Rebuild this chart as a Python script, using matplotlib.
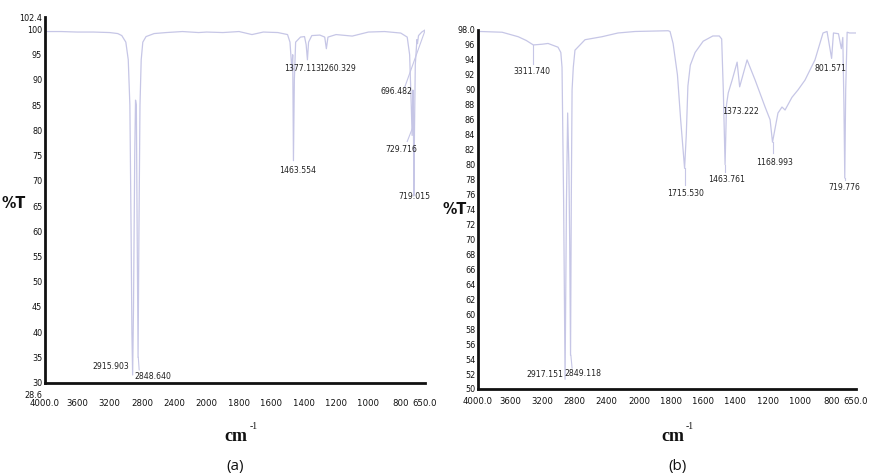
import numpy as np
import matplotlib
matplotlib.use("Agg")
import matplotlib.pyplot as plt
from matplotlib import font_manager as fm

# ---------------- data ----------------
# Panel (a): wavenumber (cm-1) and %T
wn_a = [4000, 3800, 3600, 3400, 3200, 3100, 3050, 3000, 2970, 2950, 2935, 2925,
        2915.9, 2905, 2890, 2880, 2870, 2860, 2848.6, 2838, 2825, 2810, 2790,
        2750, 2650, 2500, 2300, 2100, 2000, 1900, 1800, 1720, 1650, 1560, 1500,
        1485, 1473, 1468, 1463.5, 1458, 1450, 1420, 1395, 1385, 1377, 1370,
        1350, 1300, 1270, 1260, 1250, 1200, 1100, 1000, 900, 800, 760, 745,
        735, 729.7, 725, 722, 719, 715, 710, 700, 696.5, 690, 670, 650]
t_a = [99.6, 99.6, 99.5, 99.5, 99.4, 99.2, 98.8, 97.5, 94, 85, 60, 40,
       31.5, 45, 75, 86, 85, 60, 35, 60, 85, 94, 97.5,
       98.6, 99.2, 99.4, 99.6, 99.4, 99.5, 99.4, 99.6, 99.0, 99.5, 99.4, 99.0,
       97.5, 92, 95, 74, 90, 97.5, 98.5, 98.6, 97, 94, 97.5,
       98.8, 98.9, 98.5, 96.2, 98.5, 99.0, 98.7, 99.5, 99.6, 99.3, 98.5, 95,
       85, 79, 88, 85, 67, 80, 93, 98.0, 97.2, 98.8, 99.5, 99.9]

# Panel (b)
wn_b = [4000, 3975, 3700, 3500, 3400, 3311.7, 3200, 3129, 3005, 2970, 2955, 2935,
        2917.2, 2900, 2885, 2870, 2860, 2849.1, 2840, 2830, 2815, 2794, 2669,
        2458, 2259, 2047, 1818, 1806, 1787, 1760, 1740, 1725, 1715.5, 1705,
        1695, 1680, 1650, 1600, 1540, 1500, 1485, 1475, 1463.8, 1455, 1444,
        1420, 1389, 1373.2, 1327, 1277, 1215, 1184, 1169, 1135, 1110, 1091,
        1048, 1010, 967, 905, 855, 830, 801.6, 790, 759, 741, 732, 725, 719.8,
        714, 705, 690, 650]
t_b = [97.8, 97.8, 97.7, 97.1, 96.6, 96.0, 96.1, 96.2, 95.7, 95.0, 93, 75,
       51.3, 75, 86.9, 80, 70, 54.5, 75, 90, 93, 95.3, 96.7,
       97.1, 97.6, 97.8, 97.9, 97.8, 96.2, 92, 86, 82, 79.5, 84,
       90.5, 93.3, 95, 96.5, 97.2, 97.2, 96.8, 90, 80, 88, 89.6,
       91.3, 93.7, 90.4, 94.0, 91.3, 87.7, 86, 83, 86.9, 87.7, 87.3,
       89, 90, 91.3, 94, 97.6, 97.8, 94.2, 97.6, 97.5, 95.5, 97, 88, 78.2,
       90, 97.7, 97.6, 97.6]

x_ticks = [4000, 3600, 3200, 2800, 2400, 2000, 1800, 1600, 1400, 1200, 1000, 800, 650]
x_ticklabels = ["4000.0", "3600", "3200", "2800", "2400", "2000", "1800", "1600",
                "1400", "1200", "1000", "800", "650.0"]

y_min_a = 28.6
y_ticks_a = [30, 35, 40, 45, 50, 55, 60, 65, 70, 75, 80, 85, 90, 95, 100, 102.4]
y_ticklabels_a = ["30", "35", "40", "45", "50", "55", "60", "65", "70", "75",
                  "80", "85", "90", "95", "100", "102.4"]
y_ticks_b = [50, 52, 54, 56, 58, 60, 62, 64, 66, 68, 70, 72, 74, 76, 78, 80, 82, 84,
             86, 88, 90, 92, 94, 96, 98]
y_ticklabels_b = [str(v) for v in y_ticks_b[:-1]] + ["98.0"]

# peak labels: (text, wavenumber, %T, ha)
peaks_a = [("2915.903", 2957, 33.1, "right"), ("2848.640", 2894, 31.1, "left"),
           ("1463.554", 1435, 72.1, "center"), ("1377.113", 1404, 92.3, "center"),
           ("1260.329", 1190, 92.3, "center"), ("696.482", 826, 87.8, "center"),
           ("729.716", 795, 76.3, "center"), ("719.015", 714, 66.8, "center")]
peaks_b = [("3311.740", 3328, 92.4, "center"), ("2917.151", 3167, 51.9, "center"),
           ("2849.118", 2694, 52.1, "center"), ("1715.530", 1712, 76.2, "center"),
           ("1463.761", 1457, 78.0, "center"), ("1373.222", 1370, 87.1, "center"),
           ("1168.993", 1159, 80.3, "center"), ("801.571", 810, 92.9, "center"),
           ("719.776", 720, 77.0, "center")]

# leader lines (wavenumbers, %T)
leaders_a = [([776, 652], [88.5, 99.6]), ([760, 727], [77.8, 80.5]),
             ([2846, 2835], [35, 32.5])]
leaders_b = [([3311.7, 3311.7], [96.0, 93.4]), ([1715.5, 1715.5], [79.5, 77.3]),
             ([1463.8, 1463.8], [80, 79]), ([1169, 1169], [83, 81.5]),
             ([719.8, 719.8], [78.2, 78.0]), ([2845, 2830], [54.5, 52.8])]

# ---------------- fonts ----------------
_entries = fm.fontManager.ttflist
_names = {f.name for f in _entries}
_dv_cond = any(f.name == "DejaVu Sans" and str(f.stretch) in ("condensed", "semi-condensed", "600", "500")
               for f in _entries)
if "Liberation Sans Narrow" in _names:
    plt.rcParams["font.family"] = ["Liberation Sans Narrow", "DejaVu Sans"]
    SC = 1.0
elif _dv_cond:
    plt.rcParams["font.family"] = ["DejaVu Sans"]
    plt.rcParams["font.stretch"] = "condensed"
    SC = 0.85
else:
    plt.rcParams["font.family"] = ["Roboto", "DejaVu Sans"]
    SC = 0.84

# ---------------- style ----------------
LINE = "#c6c6e6"


def fwd(x):
    x = np.asarray(x, dtype=float)
    return np.where(x >= 2000, x, 2 * x - 2000)


def inv(u):
    u = np.asarray(u, dtype=float)
    return np.where(u >= 2000, u, (u + 2000) / 2)


fig = plt.figure(figsize=(8.7, 4.76), dpi=100)
ax_a = fig.add_axes([0.0517, 0.1815, 0.4368, 0.7819])
ax_b = fig.add_axes([0.5494, 0.1828, 0.4345, 0.7542])


def style(ax, yticks, ylabels, ylim, spine_y, xpad):
    ax.set_xscale("function", functions=(fwd, inv))
    ax.set_xlim(4000, 650)
    ax.set_ylim(*ylim)
    ax.set_xticks(x_ticks, x_ticklabels)
    ax.xaxis.set_minor_locator(matplotlib.ticker.NullLocator())
    ax.set_yticks(yticks, ylabels)
    ax.yaxis.set_minor_locator(matplotlib.ticker.NullLocator())
    ax.tick_params(axis="both", length=0, colors="#111111")
    ax.tick_params(axis="x", pad=xpad, labelsize=8.0 * SC)
    ax.tick_params(axis="y", pad=2, labelsize=7.6 * SC)
    for s in ("top", "right"):
        ax.spines[s].set_visible(False)
    ax.spines["bottom"].set_position(("data", spine_y))
    ax.spines["left"].set_bounds(spine_y, ylim[1])
    for s in ("left", "bottom"):
        ax.spines[s].set_linewidth(2.0)
        ax.spines[s].set_color("#111111")
    ax.patch.set_alpha(0)


style(ax_a, y_ticks_a, y_ticklabels_a, (y_min_a, 102.4), 30, 12)
style(ax_b, y_ticks_b, y_ticklabels_b, (50, 98.0), 50, 6)

# lower-limit label of panel (a), placed just under the "30" label
ax_a.annotate(f"{y_min_a}", xy=(0, y_min_a), xycoords=("axes fraction", "data"),
              xytext=(-2, -4), textcoords="offset points", ha="right", va="center",
              fontsize=7.6 * SC, color="#111111")

ax_a.plot(wn_a, t_a, color=LINE, lw=0.9)
ax_b.plot(wn_b, t_b, color=LINE, lw=0.9)

for ax, peaks, leaders in ((ax_a, peaks_a, leaders_a), (ax_b, peaks_b, leaders_b)):
    for txt, x, y, ha in peaks:
        ax.text(x, y, txt, ha=ha, va="center", fontsize=7.3 * SC, color="#222222")
    for xs, ys in leaders:
        ax.plot(xs, ys, color=LINE, lw=0.8)

# axis titles
fig.text(0.016, 0.573, "%T", fontsize=13.5 * SC, fontweight="semibold", ha="center",
         va="center", color="#111111")
fig.text(0.522, 0.559, "%T", fontsize=13.5 * SC, fontweight="semibold", ha="center",
         va="center", color="#111111")
for xc in (0.271, 0.773):
    fig.text(xc, 0.082, "cm", fontsize=13, fontfamily="Liberation Serif",
             fontstretch="normal", fontweight="bold", ha="center", va="center",
             color="#111111")
    fig.text(xc + 0.0155, 0.104, "-1", fontsize=7, fontfamily="Liberation Serif",
             fontstretch="normal", ha="left", va="center", color="#111111")
fig.text(0.270, 0.021, "(a)", fontsize=11, fontfamily="Open Sans", fontstretch="normal",
         ha="center", va="center", color="#111111")
fig.text(0.779, 0.021, "(b)", fontsize=11, fontfamily="Open Sans", fontstretch="normal",
         ha="center", va="center", color="#111111")

fig.savefig("out.png", dpi=100, facecolor="white")
